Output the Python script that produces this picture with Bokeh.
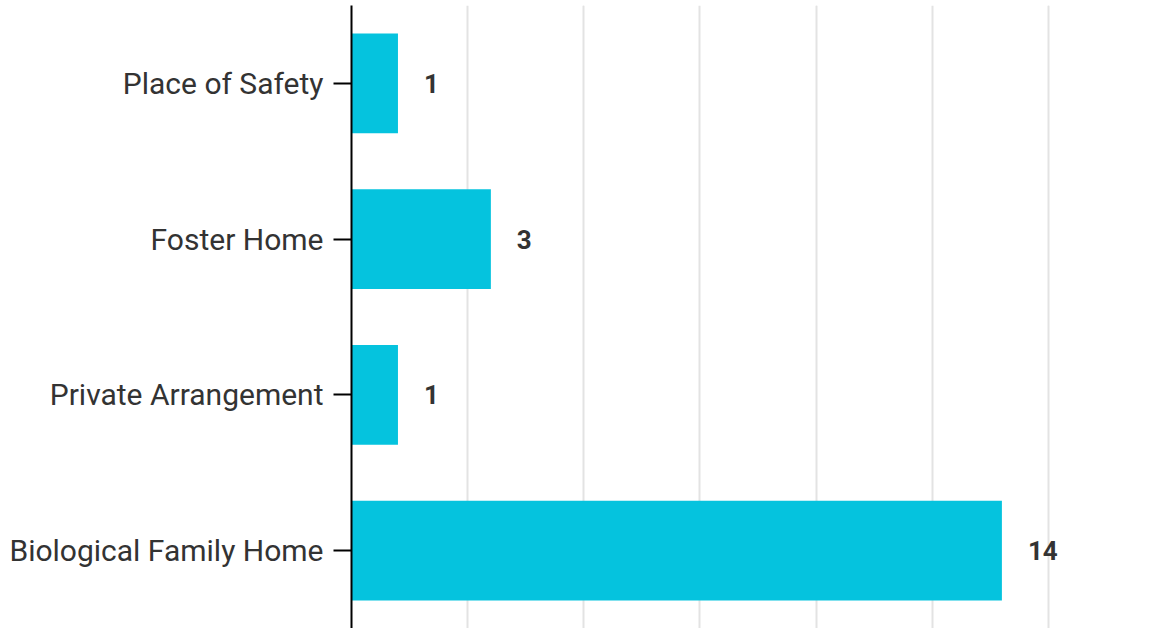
from bokeh.plotting import figure
from bokeh.models import FactorRange, Range1d, FixedTicker, Grid, ColumnDataSource
from bokeh.core.properties import value
from bokeh.embed import file_html
from bokeh.resources import INLINE

categories = ["Biological Family Home", "Private Arrangement", "Foster Home", "Place of Safety"]
counts = [14, 1, 3, 1]
grid_ticks = [2.5, 5, 7.5, 10, 12.5, 15]

src = ColumnDataSource(data=dict(cat=categories, val=counts, lbl=[str(v) for v in counts]))

p = figure(width=1164, height=628, output_backend="svg", toolbar_location=None,
           y_range=FactorRange(factors=categories), x_range=Range1d(0, 17.5),
           x_axis_location=None, min_border_left=351, min_border_right=0,
           min_border_top=5, min_border_bottom=0)
p.outline_line_color = None
p.ygrid.grid_line_color = None
p.add_layout(Grid(dimension=0, ticker=FixedTicker(ticks=grid_ticks),
                  grid_line_color="#e3e3e3", grid_line_width=2))

p.hbar(y="cat", right="val", left=0, height=0.64, source=src,
       fill_color="#05C3DE", line_color=None)
p.text(x="val", y="cat", text="lbl", source=src, x_offset=26,
       text_align="left", text_baseline="middle",
       text_font=value("Roboto"), text_font_style="bold",
       text_font_size="26px", text_color="#333333")

ax = p.yaxis[0]
ax.axis_line_color = "black"
ax.axis_line_width = 2
ax.major_tick_line_color = "black"
ax.major_tick_line_width = 2
ax.major_tick_out = 18
ax.major_tick_in = 0
ax.major_label_standoff = 10
ax.major_label_text_font = "Roboto"
ax.major_label_text_font_size = "30px"
ax.major_label_text_color = "#333333"

open("out.html", "w").write(file_html(p, INLINE))
